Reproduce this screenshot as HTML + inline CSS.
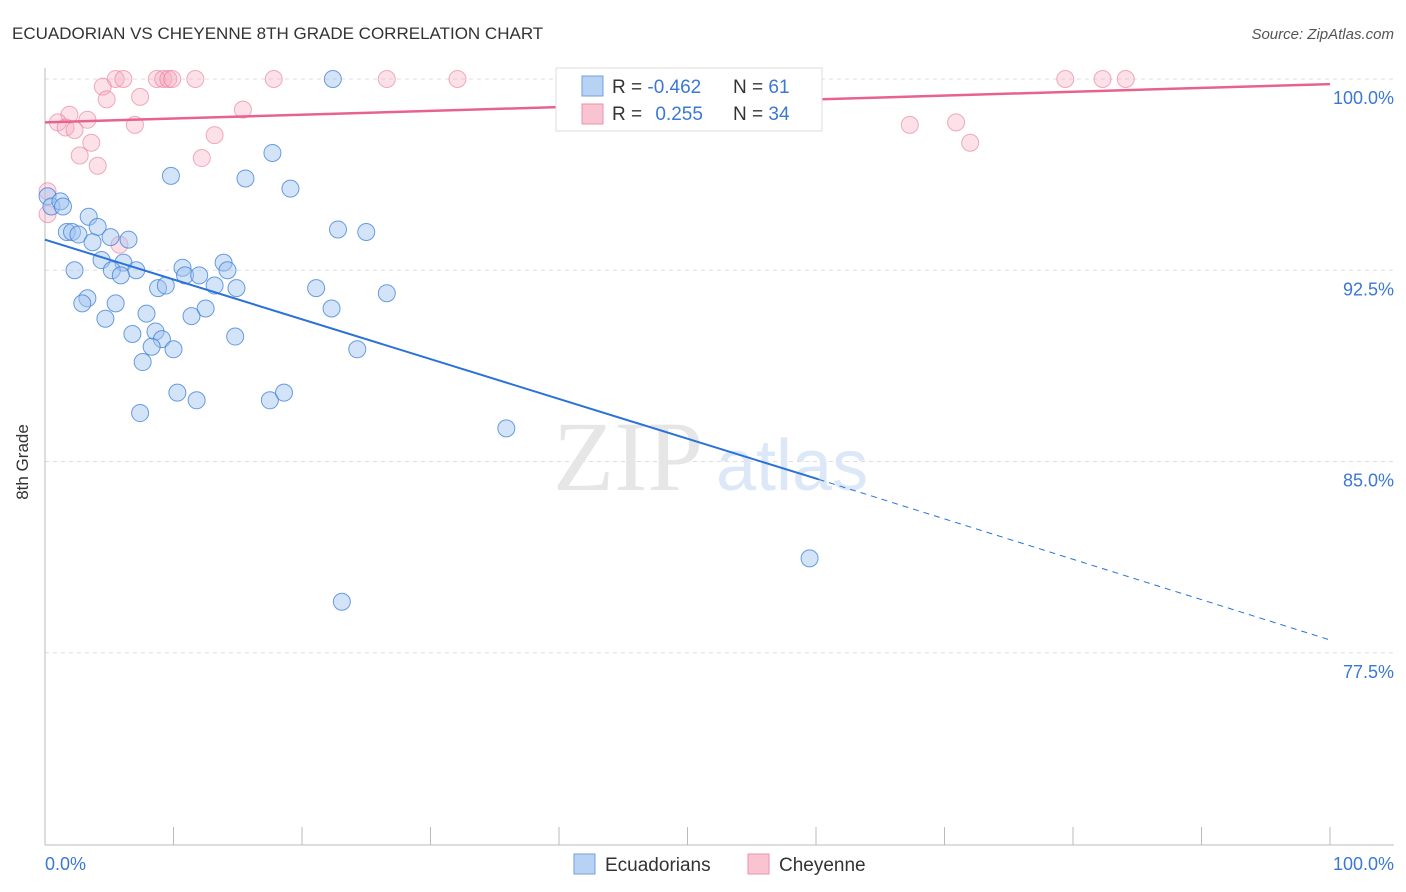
<!DOCTYPE html>
<html><head><meta charset="utf-8"><style>
body{margin:0;background:#fff;font-family:"Liberation Sans",sans-serif;}
svg{display:block}
</style></head><body>
<svg id="chart" width="1406" height="892" viewBox="0 0 1406 892" xmlns="http://www.w3.org/2000/svg">
<text x="12" y="39" font-size="17" fill="#333">ECUADORIAN VS CHEYENNE 8TH GRADE CORRELATION CHART</text>
<text x="1394" y="39" font-size="15" fill="#555" font-style="italic" text-anchor="end">Source: ZipAtlas.com</text>
<g id="grid"></g>
<text x="553" y="490" font-size="100" fill="#e6e6e6" font-family="Liberation Serif,serif">ZIP</text>
<text x="716" y="490" font-size="72" fill="#dce8f8">atlas</text>
<line x1="45" y1="68" x2="45" y2="845" stroke="#bbb"/>
<line x1="45" y1="845" x2="1394" y2="845" stroke="#bbb"/>
<g id="ticks"></g>
<g id="pts"></g>
<g id="lines"></g>
<text x="22" y="456" font-size="17" fill="#333" transform="rotate(-90 28 456)" text-anchor="middle">8th Grade</text>
<text x="45" y="870" font-size="18" fill="#3a78d4">0.0%</text>
<text x="1394" y="870" font-size="18" fill="#3a78d4" text-anchor="end">100.0%</text>
<g>
<rect x="556" y="68" width="266" height="63" fill="#fff" stroke="#ddd"/>
<rect x="582" y="76" width="21" height="20" fill="#b8d2f4" stroke="#6fa0e4"/>
<rect x="582" y="104" width="21" height="20" fill="#f9c4d2" stroke="#ee8fab"/>
<text x="612" y="93" font-size="19" fill="#333">R = <tspan fill="#3a78d4">-0.462</tspan></text>
<text x="733" y="93" font-size="19" fill="#333">N = <tspan fill="#3a78d4"> 61</tspan></text>
<text x="612" y="120" font-size="19" fill="#333">R = <tspan fill="#3a78d4" dx="8">0.255</tspan></text>
<text x="733" y="120" font-size="19" fill="#333">N = <tspan fill="#3a78d4">34</tspan></text>
</g>
<g>
<rect x="574" y="854" width="21" height="20" fill="#b8d2f4" stroke="#6fa0e4"/>
<text x="605" y="871" font-size="19" fill="#333">Ecuadorians</text>
<rect x="748" y="854" width="21" height="20" fill="#f9c4d2" stroke="#ee8fab"/>
<text x="779" y="871" font-size="19" fill="#333">Cheyenne</text>
</g>
</svg>
<script>
const yTicks=[100,92.5,85,77.5];
const yTickLabels=["100.0%","92.5%","85.0%","77.5%"];
const blueX=[22.4,17.7,9.8,15.6,19.1,0.2,0.5,1.2,1.4,3.4,4.1,1.7,2.1,2.6,5.1,6.5,3.7,22.8,25,4.4,6.1,2.3,5.2,7.1,10.7,13.9,5.9,10.9,12,14.2,8.8,9.4,13.2,14.9,21.1,26.6,3.3,2.9,5.5,12.5,22.3,7.9,4.7,11.4,8.6,6.8,9.1,14.8,8.3,10,24.3,7.6,10.3,11.8,17.5,18.6,7.4,35.9,59.5,23.1];
const blueY=[100,97.1,96.2,96.1,95.7,95.4,95,95.2,95,94.6,94.2,94,94,93.9,93.8,93.7,93.6,94.1,94,92.9,92.8,92.5,92.5,92.5,92.6,92.8,92.3,92.3,92.3,92.5,91.8,91.9,91.9,91.8,91.8,91.6,91.4,91.2,91.2,91,91,90.8,90.6,90.7,90.1,90,89.8,89.9,89.5,89.4,89.4,88.9,87.7,87.4,87.4,87.7,86.9,86.3,81.2,79.5];
const pinkX=[5.5,6.1,8.7,9.2,9.6,9.9,11.7,17.8,26.6,32.1,79.4,82.3,84.1,4.5,4.8,7.4,1.9,3.3,1,1.6,2.3,7,15.4,13.2,3.6,2.7,12.2,4.1,67.3,70.9,72,0.2,0.2,5.8];
const pinkY=[100,100,100,100,100,100,100,100,100,100,100,100,100,99.7,99.2,99.3,98.6,98.4,98.3,98.1,98,98.2,98.8,97.8,97.5,97,96.9,96.6,98.2,98.3,97.5,95.6,94.7,93.5];
const blueTrend=[93.7,84.3,78.0];
const blueTrendX=[0,60.2,100];
const pinkTrend=[98.3,99.8];
const pinkTrendX=[0,100];
const NS="http://www.w3.org/2000/svg";
const X=v=>45+v*12.85, Y=v=>79+(100-v)*25.5;
function mk(t,a,p){const e=document.createElementNS(NS,t);for(const k in a)e.setAttribute(k,a[k]);p.appendChild(e);return e;}
const grid=document.getElementById('grid'),ticks=document.getElementById('ticks'),pts=document.getElementById('pts'),lines=document.getElementById('lines');
yTicks.forEach((t,i)=>{
 const l=mk('line',{x1:45,x2:1394,y1:Y(t),y2:Y(t),stroke:'#ddd','stroke-dasharray':'4,4'},grid);
 
 
 const tx=mk('text',{x:1394,y:Y(t)+25,'font-size':18,fill:'#3a78d4','text-anchor':'end'},grid);
 tx.textContent=yTickLabels[i];
 
 
});
for(let i=0;i<=10;i++){
 const l=mk('line',{x1:X(i*10),x2:X(i*10),y1:845,y2:827,stroke:'#bbb'},ticks);
 
 
}
pinkX.forEach((x,i)=>{
 const c=mk('circle',{cx:X(x),cy:Y(pinkY[i]),r:8.5,fill:'rgba(246,170,192,0.35)',stroke:'rgba(232,120,155,0.6)','stroke-width':1},pts);
 
 
});
blueX.forEach((x,i)=>{
 const c=mk('circle',{cx:X(x),cy:Y(blueY[i]),r:8.5,fill:'rgba(160,195,240,0.45)',stroke:'rgba(60,125,215,0.75)','stroke-width':1},pts);
 
 
});
const b1=mk('line',{x1:X(blueTrendX[0]),y1:Y(blueTrend[0]),x2:X(blueTrendX[1]),y2:Y(blueTrend[1]),stroke:'#2a72d8','stroke-width':2},lines);


const b2=mk('line',{x1:X(blueTrendX[1]),y1:Y(blueTrend[1]),x2:X(blueTrendX[2]),y2:Y(blueTrend[2]),stroke:'#2a72d8','stroke-width':1,'stroke-dasharray':'6,5'},lines);


const p1=mk('line',{x1:X(pinkTrendX[0]),y1:Y(pinkTrend[0]),x2:X(pinkTrendX[1]),y2:Y(pinkTrend[1]),stroke:'#e8628e','stroke-width':2.5},lines);


</script>
</body></html>
